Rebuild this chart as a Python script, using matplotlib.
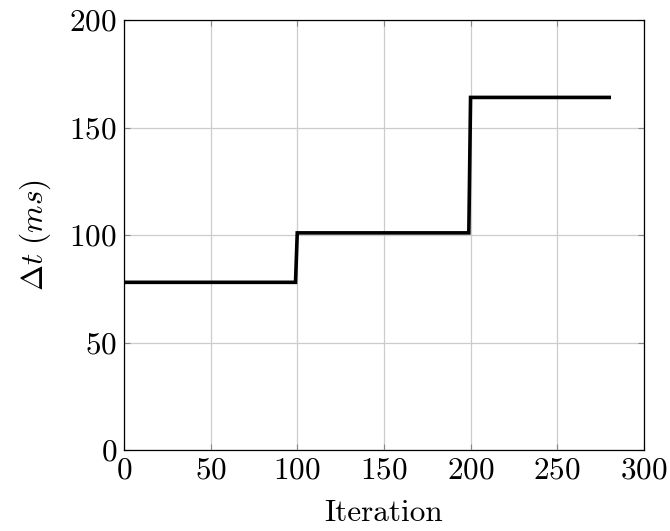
import matplotlib.pyplot as plt

plt.rcParams['font.family'] = 'cmr10'
plt.rcParams['mathtext.fontset'] = 'cm'
plt.rcParams['axes.formatter.use_mathtext'] = True

iterations = [0, 99, 100, 199, 200, 280]
delta_t = [78, 78, 101, 101, 164, 164]

fig = plt.figure(figsize=(6.7, 5.31), dpi=100)
ax = fig.add_axes([0.185, 0.1525, 0.776, 0.8098])

ax.plot(iterations, delta_t, color='black', linewidth=2.6, solid_joinstyle='miter')

ax.set_xlim(0, 300)
ax.set_ylim(0, 200)
ax.set_xticks([0, 50, 100, 150, 200, 250, 300])
ax.set_yticks([0, 50, 100, 150, 200])
ax.grid(True, color='#cccccc', linewidth=0.9)
ax.set_axisbelow(True)
ax.tick_params(direction='in', top=True, right=True, length=4, width=0.8,
               color='#888888', labelsize=22.5, pad=5)
for s in ax.spines.values():
    s.set_linewidth(0.9)

ax.set_xlabel('Iteration', fontsize=22.5, labelpad=10)
ax.set_ylabel(r'$\Delta t\ (ms)$', fontsize=22.5, labelpad=12)

fig.savefig('out.png', dpi=100)
